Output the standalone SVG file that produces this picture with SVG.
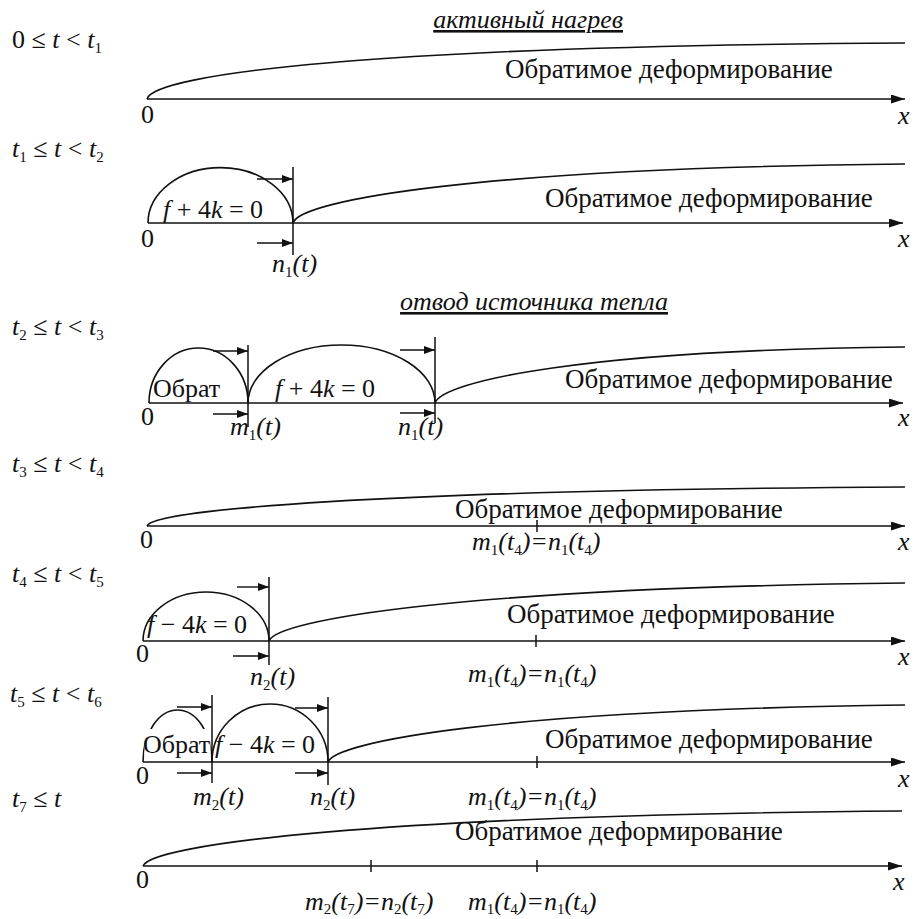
<svg xmlns="http://www.w3.org/2000/svg" width="915" height="919" viewBox="0 0 915 919">
<style>
text{font-size:26px;fill:#111}
.b{font-size:27px}
.i{font-style:italic}
.s{font-size:15px;font-style:normal}
.ln{stroke:#111;stroke-width:1.5;fill:none}
.cv{stroke:#111;stroke-width:1.6;fill:none}
.ar{stroke:#111;stroke-width:1.4;fill:none;marker-end:url(#ah)}
.ax{stroke:#111;stroke-width:1.5;fill:none;marker-end:url(#axh)}
</style>
<defs>
<marker id="ah" viewBox="0 0 11 8" refX="11" refY="4" markerWidth="11" markerHeight="8" markerUnits="userSpaceOnUse" orient="auto"><path d="M0,0 L11,4 L0,8 z" fill="#111"/></marker>
<marker id="axh" viewBox="0 0 14 9" refX="14" refY="4.5" markerWidth="14" markerHeight="9" markerUnits="userSpaceOnUse" orient="auto"><path d="M0,0 L14,4.5 L0,9 z" fill="#111"/></marker>
</defs>
<rect width="915" height="919" fill="#fff"/>
<g font-family="Liberation Serif, Tinos, Times New Roman, DejaVu Serif, Noto Serif, serif">

<g id="panel1">
<text x="12" y="48">0 ≤ <tspan class="i">t</tspan> &lt; <tspan class="i">t</tspan><tspan class="s" dy="5">1</tspan></text>
<text class="i" x="623" y="28" text-anchor="end" text-decoration="underline">активный нагрев</text>
<path class="cv" d="M147,99 C154,74 374,46 905,43"/>
<text class="b" x="505" y="78">Обратимое деформирование</text>
<text x="141" y="123">0</text>
<text class="i" x="898" y="124">x</text>
</g>

<g id="panel2">
<text x="12" y="157"><tspan class="i">t</tspan><tspan class="s" dy="5">1</tspan><tspan dy="-5"> ≤ </tspan><tspan class="i">t</tspan> &lt; <tspan class="i">t</tspan><tspan class="s" dy="5">2</tspan></text>
<path class="cv" d="M148,223 A72,55 0 0 1 293,223"/>
<path class="cv" d="M293,223 C300,200 480,168 905,164"/>
<text x="163" y="218"><tspan class="i">f</tspan> + 4<tspan class="i">k</tspan> = 0</text>
<text class="b" x="545" y="207">Обратимое деформирование</text>
<text x="141" y="247">0</text>
<text class="i" x="272" y="272">n<tspan class="s" dy="5">1</tspan><tspan dy="-5">(t)</tspan></text>
<text class="i" x="898" y="247">x</text>
</g>

<g id="panel3">
<text x="12" y="335"><tspan class="i">t</tspan><tspan class="s" dy="5">2</tspan><tspan dy="-5"> ≤ </tspan><tspan class="i">t</tspan> &lt; <tspan class="i">t</tspan><tspan class="s" dy="5">3</tspan></text>
<text class="i" x="668" y="310" text-anchor="end" text-decoration="underline">отвод источника тепла</text>
<path class="cv" d="M149,403 A49.5,55 0 0 1 248,403"/>
<path class="cv" d="M248,403 A93.5,58 0 0 1 435,403"/>
<path class="cv" d="M435,403 C442,382 580,350 905,347"/>
<text x="153" y="397">Обрат</text>
<text x="275" y="397"><tspan class="i">f</tspan> + 4<tspan class="i">k</tspan> = 0</text>
<text class="b" x="565" y="388">Обратимое деформирование</text>
<text x="141" y="425">0</text>
<text class="i" x="230" y="435">m<tspan class="s" dy="5">1</tspan><tspan dy="-5">(t)</tspan></text>
<text class="i" x="398" y="435">n<tspan class="s" dy="5">1</tspan><tspan dy="-5">(t)</tspan></text>
<text class="i" x="898" y="426">x</text>
</g>

<g id="panel4">
<text x="12" y="472"><tspan class="i">t</tspan><tspan class="s" dy="5">3</tspan><tspan dy="-5"> ≤ </tspan><tspan class="i">t</tspan> &lt; <tspan class="i">t</tspan><tspan class="s" dy="5">4</tspan></text>
<path class="cv" d="M147,526 C154,510 374,490 905,487"/>
<text class="b" x="455" y="518">Обратимое деформирование</text>
<text x="140" y="548">0</text>
<text class="i" x="472" y="550">m<tspan class="s" dy="5">1</tspan><tspan dy="-5">(t</tspan><tspan class="s" dy="5">4</tspan><tspan dy="-5">)=n</tspan><tspan class="s" dy="5">1</tspan><tspan dy="-5">(t</tspan><tspan class="s" dy="5">4</tspan><tspan dy="-5">)</tspan></text>
<text class="i" x="898" y="550">x</text>
</g>

<g id="panel5">
<text x="12" y="582"><tspan class="i">t</tspan><tspan class="s" dy="5">4</tspan><tspan dy="-5"> ≤ </tspan><tspan class="i">t</tspan> &lt; <tspan class="i">t</tspan><tspan class="s" dy="5">5</tspan></text>
<path class="cv" d="M143,641 A63,49 0 0 1 269,641"/>
<path class="cv" d="M269,641 C276,620 460,588 905,583"/>
<text x="147" y="633"><tspan class="i">f</tspan> − 4<tspan class="i">k</tspan> = 0</text>
<text class="b" x="507" y="623">Обратимое деформирование</text>
<text x="136" y="662">0</text>
<text class="i" x="250" y="685">n<tspan class="s" dy="5">2</tspan><tspan dy="-5">(t)</tspan></text>
<text class="i" x="468" y="682">m<tspan class="s" dy="5">1</tspan><tspan dy="-5">(t</tspan><tspan class="s" dy="5">4</tspan><tspan dy="-5">)=n</tspan><tspan class="s" dy="5">1</tspan><tspan dy="-5">(t</tspan><tspan class="s" dy="5">4</tspan><tspan dy="-5">)</tspan></text>
<text class="i" x="898" y="665">x</text>
</g>

<g id="panel6">
<text x="10" y="702"><tspan class="i">t</tspan><tspan class="s" dy="5">5</tspan><tspan dy="-5"> ≤ </tspan><tspan class="i">t</tspan> &lt; <tspan class="i">t</tspan><tspan class="s" dy="5">6</tspan></text>
<path class="cv" d="M143,762 A34.5,52 0 0 1 212,762"/>
<rect x="144.5" y="729" width="66" height="27" fill="#fff"/>
<path class="cv" d="M212,762 A58,58 0 0 1 328,762"/>
<path class="cv" d="M328,762 C335,742 500,710 905,705"/>
<text x="143" y="753">Обрат</text>
<text x="215" y="753"><tspan class="i">f</tspan> − 4<tspan class="i">k</tspan> = 0</text>
<text class="b" x="545" y="748">Обратимое деформирование</text>
<text x="136" y="784">0</text>
<text class="i" x="193" y="805">m<tspan class="s" dy="5">2</tspan><tspan dy="-5">(t)</tspan></text>
<text class="i" x="310" y="805">n<tspan class="s" dy="5">2</tspan><tspan dy="-5">(t)</tspan></text>
<text class="i" x="468" y="805">m<tspan class="s" dy="5">1</tspan><tspan dy="-5">(t</tspan><tspan class="s" dy="5">4</tspan><tspan dy="-5">)=n</tspan><tspan class="s" dy="5">1</tspan><tspan dy="-5">(t</tspan><tspan class="s" dy="5">4</tspan><tspan dy="-5">)</tspan></text>
<text class="i" x="898" y="787">x</text>
</g>

<g id="panel7">
<text x="12" y="807"><tspan class="i">t</tspan><tspan class="s" dy="5">7</tspan><tspan dy="-5"> ≤ </tspan><tspan class="i">t</tspan></text>
<path class="cv" d="M143,866 C150,845 370,815 902,811"/>
<text class="b" x="455" y="840">Обратимое деформирование</text>
<text x="136" y="888">0</text>
<text class="i" x="305" y="910">m<tspan class="s" dy="4">2</tspan><tspan dy="-4">(t</tspan><tspan class="s" dy="4">7</tspan><tspan dy="-4">)=n</tspan><tspan class="s" dy="4">2</tspan><tspan dy="-4">(t</tspan><tspan class="s" dy="4">7</tspan><tspan dy="-4">)</tspan></text>
<text class="i" x="468" y="910">m<tspan class="s" dy="4">1</tspan><tspan dy="-4">(t</tspan><tspan class="s" dy="4">4</tspan><tspan dy="-4">)=n</tspan><tspan class="s" dy="4">1</tspan><tspan dy="-4">(t</tspan><tspan class="s" dy="4">4</tspan><tspan dy="-4">)</tspan></text>
<text class="i" x="893" y="890">x</text>
</g>
</g>

<g id="connectors">
<line class="ax" x1="147" y1="99" x2="905" y2="99"/>
<line class="ax" x1="148" y1="223" x2="903" y2="223"/>
<line class="ax" x1="149" y1="403" x2="903" y2="403"/>
<line class="ax" x1="147" y1="526" x2="905" y2="526"/>
<line class="ax" x1="143" y1="641" x2="905" y2="641"/>
<line class="ax" x1="143" y1="762" x2="905" y2="762"/>
<line class="ax" x1="143" y1="866" x2="902" y2="866"/>
<line class="ln" x1="293" y1="167" x2="293" y2="255"/>
<line class="ln" x1="248" y1="345" x2="248" y2="427"/>
<line class="ln" x1="435" y1="337" x2="435" y2="423"/>
<line class="ln" x1="269" y1="577" x2="269" y2="665"/>
<line class="ln" x1="212" y1="695" x2="212" y2="783"/>
<line class="ln" x1="328" y1="697" x2="328" y2="785"/>
<line class="ln" x1="537" y1="520" x2="537" y2="532"/>
<line class="ln" x1="536" y1="635" x2="536" y2="647"/>
<line class="ln" x1="537" y1="756" x2="537" y2="768"/>
<line class="ln" x1="537" y1="860" x2="537" y2="872"/>
<line class="ln" x1="371" y1="860" x2="371" y2="872"/>
<line class="ar" x1="257" y1="179" x2="293" y2="179"/>
<line class="ar" x1="257" y1="243" x2="293" y2="243"/>
<line class="ar" x1="213" y1="351" x2="248" y2="351"/>
<line class="ar" x1="213" y1="414" x2="248" y2="414"/>
<line class="ar" x1="400" y1="350" x2="435" y2="350"/>
<line class="ar" x1="400" y1="413" x2="435" y2="413"/>
<line class="ar" x1="237" y1="587" x2="269" y2="587"/>
<line class="ar" x1="233" y1="656" x2="269" y2="656"/>
<line class="ar" x1="177" y1="707" x2="212" y2="707"/>
<line class="ar" x1="177" y1="773" x2="212" y2="773"/>
<line class="ar" x1="295" y1="708" x2="328" y2="708"/>
<line class="ar" x1="295" y1="773" x2="328" y2="773"/>
</g>
</svg>
